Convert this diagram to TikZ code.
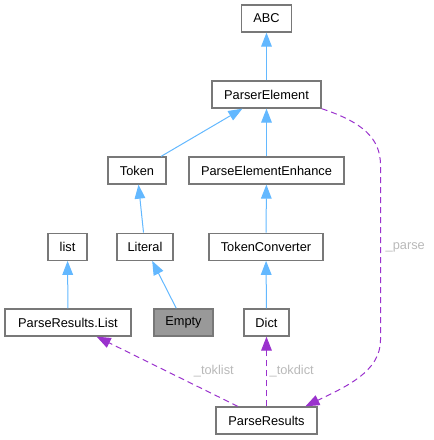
\documentclass[tikz,border=0pt]{standalone}
\usepackage{fontspec}
\setmainfont{Liberation Sans}
\usetikzlibrary{arrows.meta}
\definecolor{EdgeBlue}{RGB}{99,184,255}
\definecolor{EdgePurple}{RGB}{154,50,205}
\definecolor{BoxLine}{RGB}{120,120,120}
\definecolor{EmptyFill}{RGB}{153,153,153}
\definecolor{LabelGrey}{RGB}{185,185,185}
\tikzset{
  inherit/.style={-{Triangle[length=10.5pt,width=8pt]},line width=0.75pt,draw=EdgeBlue},
  usage/.style={-{Triangle[length=10.5pt,width=8pt]},line width=0.75pt,
    dash pattern=on 4.5pt off 3pt,draw=EdgePurple},
  classbox/.style={draw=BoxLine,fill=white,line width=1pt,inner sep=0pt,
    minimum height=20.25pt,font=\fontsize{9.6}{11}\selectfont},
  greybox/.style={classbox,fill=EmptyFill},
  edgelabel/.style={text=LabelGrey,inner sep=0pt,font=\fontsize{9.6}{11}\selectfont}
}
\begin{document}
\begin{tikzpicture}[x=0.75pt,y=-0.75pt]
  \useasboundingbox (0,0) rectangle (434,440);
  % class boxes
  \node[classbox,minimum width=37.5pt] (abc) at (266.5,18.5) {ABC};
  \node[classbox,minimum width=81.75pt] (parserelement) at (266.5,94.5) {ParserElement};
  \node[classbox,minimum width=43.5pt] (token) at (137,170.5) {Token};
  \node[classbox,minimum width=116.25pt] (enhance) at (266.5,170.5) {ParseElementEnhance};
  \node[classbox,minimum width=29.25pt] (list) at (67.5,246.7) {list};
  \node[classbox,minimum width=42pt] (literal) at (145,246.7) {Literal};
  \node[classbox,minimum width=85.5pt] (converter) at (266,246.7) {TokenConverter};
  \node[classbox,minimum width=94.5pt] (resultslist) at (68,322.5) {ParseResults.List};
  \node[greybox,minimum width=44.25pt] (empty) at (183.5,322.5) {Empty};
  \node[classbox,minimum width=33.75pt] (dict) at (266.5,322.5) {Dict};
  \node[classbox,minimum width=75.75pt] (results) at (266.5,420.5) {ParseResults};
  % inheritance
  \draw[inherit] (parserelement) -- (abc);
  \draw[inherit] (token) -- (parserelement);
  \draw[inherit] (enhance) -- (parserelement);
  \draw[inherit] (literal) -- (token);
  \draw[inherit] (converter) -- (enhance);
  \draw[inherit] (resultslist) -- (list);
  \draw[inherit] (empty) -- (literal);
  \draw[inherit] (dict) -- (converter);
  % members
  \coordinate (parsetop) at (380.5,165);
  \coordinate (parsebottom) at (380.5,340);
  \draw[usage] (results) -- node[edgelabel,pos=0.17,yshift=17.25pt] {\_toklist} (resultslist);
  \draw[usage] (results) -- node[edgelabel,pos=0.5,anchor=west,xshift=2pt] {\_tokdict} (dict);
  \draw[usage] (parserelement.south east) .. controls (362,122) and (380.5,138) .. (parsetop)
    -- node[edgelabel,pos=0.47,anchor=west,xshift=3.5pt] {\_parse} (parsebottom)
    .. controls (380.5,372) and (345,387) .. (results.20);
\end{tikzpicture}
\end{document}
